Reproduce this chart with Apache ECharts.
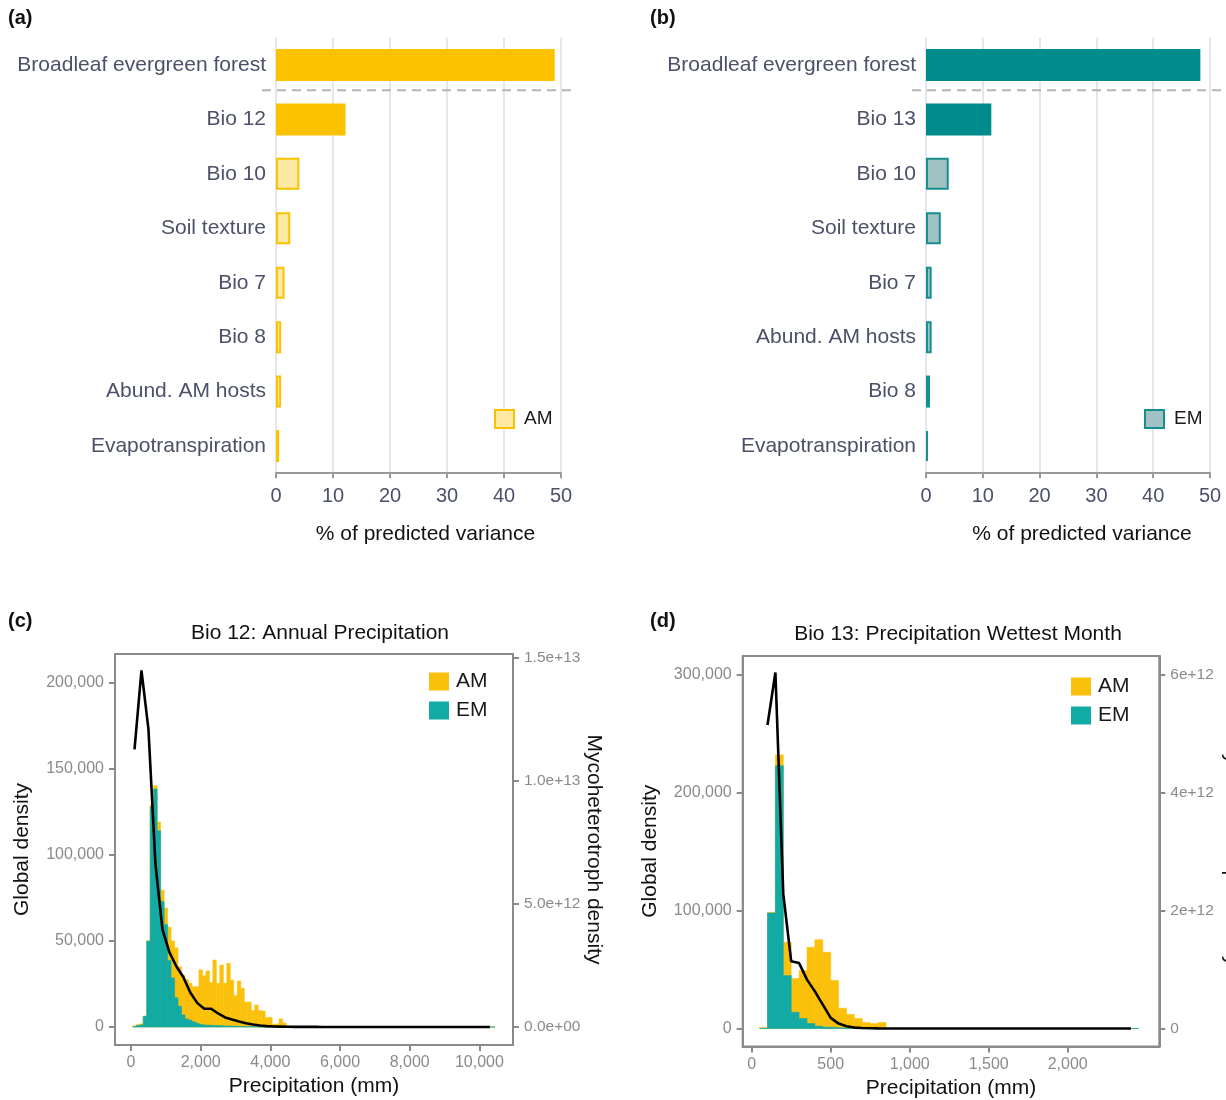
<!DOCTYPE html>
<html><head><meta charset="utf-8">
<script src="https://cdn.jsdelivr.net/npm/echarts@6/dist/echarts.min.js"></script>
<style>html,body{margin:0;padding:0;background:#fff}#chart{width:1226px;height:1100px}</style>
</head><body><div id="chart"></div>
<script>
// ---------------- DATA ----------------
const aCategories = ['Broadleaf evergreen forest','Bio 12','Bio 10','Soil texture','Bio 7','Bio 8','Abund. AM hosts','Evapotranspiration'];
const aValues = [48.9, 12.2, 4.1, 2.5, 1.5, 0.9, 0.9, 0.55];
const bCategories = ['Broadleaf evergreen forest','Bio 13','Bio 10','Soil texture','Bio 7','Abund. AM hosts','Bio 8','Evapotranspiration'];
const bValues = [48.3, 11.5, 4.0, 2.6, 1.0, 1.0, 0.7, 0.35];
const varianceTicks = [0, 10, 20, 30, 40, 50];

// Panel c: histogram bins (left edges, width 100 mm)
const cBinLeft = [50,150,250,350,450,550,650,750,850,950,1050,1150,1250,1350,1450,1550,1650,1750,1850,1950,
  2050,2150,2250,2350,2450,2550,2650,2750,2850,2950,3050,3150,3250,3350,3450,3550,3650,3750,3850,3950,
  4050,4150,4250,4350,4450,4550,4650,4750,4850,4950,5050,5150,5250,5350,5450,5550,5650,5750,5850,5950,
  6050,6150,6250,6350,6450,6550,6650,6750,6850,6950,7050,7150,7250,7350,7450,7550,7650,7750,7850,7950,
  8050,8150,8250,8350,8450,8550,8650,8750,8850,8950,9050,9150,9250,9350,9450,9550,9650,9750,9850,9950,
  10050,10150,10250,10350];
const cBinWidth = 100;
const cAM = [600,1400,1800,6300,50200,129000,140300,119200,79500,69200,
  58000,50000,46000,35000,30000,27500,25400,23400,23400,33200,
  29800,32600,25800,38900,25400,36000,25400,37000,27300,18200,
  26700,22500,14500,14500,9500,12800,9500,9300,5400,5600,
  1700,1700,4700,2300,600,300,200,150,200,100,
  120,100,250,80,90,70,80,60,70,200,
  60,50,60,50,40,200,40,50,30,40,
  30,180,30,150,20,30,20,20,20,20,
  15,15,10,10,10,10,10,10,8,8,
  8,6,6,6,5,5,5,4,4,4,
  3,3,3,3];
const cEM = [300,800,1200,6200,49800,128000,138400,114000,73000,59500,
  38600,28500,17000,12000,7000,4700,4000,3000,2200,1500,
  1200,1000,1000,800,800,700,600,600,500,500,
  300,300,200,200,150,150,100,100,100,80,
  60,50,40,30,20,10,10,10,10,10,
  5,5,5,5,5,5,5,5,5,5,
  5,5,5,5,5,5,5,5,5,5,
  5,5,5,5,5,5,5,5,5,5,
  5,5,5,5,5,5,5,5,5,5,
  5,5,5,5,5,5,5,5,5,5,
  2,2,2,2];
const cLineX = [100,300,500,700,900,1100,1300,1500,1700,1900,2100,2300,2500,2700,2900,3100,3300,3500,3700,3900,
  4100,4300,4500,4700,4900,5100,5300,5500,5700,5900,6100,6300,6500,6700,6900,7100,7300,7500,7700,7900,
  8100,8300,8500,8700,8900,9100,9300,9500,9700,9900,10100,10300];
const cLineY = [1.128e13,1.449e13,1.211e13,6.64e12,3.98e12,3.04e12,2.47e12,2.03e12,1.40e12,9.8e11,
  7.4e11,7.4e11,5.5e11,3.9e11,3.0e11,2.2e11,1.5e11,1.0e11,6e10,3.5e10,
  2e10,1.4e10,8e9,5e9,4e9,3e9,3e9,2e9,2e9,2e9,
  2e9,1.5e9,1.5e9,1.5e9,1e9,1e9,1e9,1e9,1e9,1e9,
  8e8,8e8,6e8,6e8,5e8,5e8,4e8,4e8,3e8,3e8,
  2e8,2e8];
const cXTicks = [0, 2000, 4000, 6000, 8000, 10000];
const cYTicks = [0, 50000, 100000, 150000, 200000];
const cY2Ticks = [0, 5e12, 1e13, 1.5e13];

// Panel d: histogram bins (left edges, width 50 mm)
const dBinLeft = [50,100,150,200,250,300,350,400,450,500,550,600,650,700,750,800,850,900,950,1000,
  1050,1100,1150,1200,1250,1300,1350,1400,1450,1500,1550,1600,1650,1700,1750,1800,1850,1900,1950,2000,
  2050,2100,2150,2200,2250,2300,2350,2400];
const dBinWidth = 50;
const dAM = [800,98600,232200,73200,42400,49200,68900,75400,64700,40700,
  17200,11900,8500,5100,4200,5100,400,300,250,200,
  180,160,140,120,110,100,90,80,70,60,
  50,50,40,40,30,30,30,20,20,20,
  20,15,15,15,10,10,10,10];
const dEM = [0,98000,222900,44900,13800,8500,4200,2000,1100,1000,
  500,300,200,100,100,50,30,20,20,20,
  10,10,10,10,10,10,10,10,10,10,
  10,10,10,10,10,10,10,10,10,10,
  5,5,5,5,5,5,5,5];
const dLineX = [100,150,200,250,300,350,400,450,500,550,600,650,700,750,800,850,900,950,1000,1050,
  1100,1150,1200,1250,1300,1350,1400,1450,1500,1550,1600,1650,1700,1750,1800,1850,1900,1950,2000,2050,
  2100,2150,2200,2250,2300,2350,2400];
const dLineY = [5.15e12,6.04e12,2.28e12,1.14e12,1.11e12,8.3e11,6.3e11,4.06e11,1.8e11,8.4e10,
  4.0e10,1.6e10,8e9,4e9,2e9,1.5e9,1.2e9,1e9,9e8,8e8,
  7e8,6e8,5e8,5e8,4e8,4e8,3e8,3e8,3e8,2e8,
  2e8,2e8,2e8,1e8,1e8,1e8,1e8,1e8,1e8,1e8,
  5e7,5e7,5e7,5e7,5e7,5e7,5e7];
const dXTicks = [0, 500, 1000, 1500, 2000];
const dYTicks = [0, 100000, 200000, 300000];
const dY2Ticks = [0, 2e12, 4e12, 6e12];

// ---------------- STYLE ----------------
const FONT = '"Liberation Sans", Arial, sans-serif';
const SLATE = '#4a5168';
const GRAYTXT = '#8a8a8a';
const FRAME = '#8a8a8a';
const AM_SOLID = '#FCC200', AM_LIGHT = '#FEE9A3', AM_BORDER = '#FCC200';
const EM_SOLID = '#008C8C', EM_LIGHT = '#A2C1C2', EM_BORDER = '#178E8F';
const HIST_AM = '#FBC10A', HIST_EM = '#12AAA5';

const fmtComma = v => v.toLocaleString('en-US');
const fmtExp1 = v => { const s = v.toExponential(1).split('e'); const e = s[1]; return s[0] + 'e' + e[0] + e.slice(1).padStart(2, '0'); };
const fmtExp0 = v => v === 0 ? '0' : v.toExponential(0);

function barY(gi, cats) {
  return { type: 'category', gridIndex: gi, data: cats, inverse: true,
    axisLine: { show: false }, axisTick: { show: false }, splitLine: { show: false },
    axisLabel: { color: SLATE, fontSize: 21, fontFamily: FONT, margin: 10 } };
}
function barX(gi, nameShift) {
  return { type: 'value', gridIndex: gi, min: varianceTicks[0], max: varianceTicks[varianceTicks.length - 1], interval: 10,
    name: '% of predicted variance', nameLocation: 'middle', nameGap: 51, nameMoveOverlap: false,
    nameTextStyle: { color: '#111', fontSize: 21, fontFamily: FONT, padding: [0, 0, 0, nameShift] },
    axisLine: { show: true, onZero: false, lineStyle: { color: '#9a9a9a', width: 2 } },
    axisTick: { show: true, length: 5, lineStyle: { color: '#9a9a9a', width: 2 } },
    axisLabel: { color: SLATE, fontSize: 20, fontFamily: FONT, margin: 13 },
    splitLine: { show: true, lineStyle: { color: '#e3e6ee', width: 2 } } };
}
function barSeries(name, xi, yi, vals, solid, light, border) {
  return { type: 'bar', name, xAxisIndex: xi, yAxisIndex: yi, barWidth: 32, z: 3,
    itemStyle: { color: light, borderColor: border, borderWidth: 2 },
    data: vals.map((v, i) => i < 2 ? { value: v, itemStyle: { color: solid, borderColor: solid, borderWidth: 0 } } : v) };
}
function histX(gi, min, max, ticks) {
  return { type: 'value', gridIndex: gi, min, max,
    name: 'Precipitation (mm)', nameLocation: 'middle', nameGap: 31, nameMoveOverlap: false,
    nameTextStyle: { color: '#111', fontSize: 21, fontFamily: FONT },
    axisLine: { show: true, onZero: false, lineStyle: { color: FRAME, width: 2 } },
    axisTick: { show: true, length: 6, customValues: ticks, lineStyle: { color: FRAME, width: 2 } },
    axisLabel: { color: GRAYTXT, fontSize: 16, fontFamily: FONT, margin: 10, customValues: ticks, formatter: fmtComma },
    splitLine: { show: false } };
}
function histY(gi, min, max, ticks, pos, name, gap, rot, fmt, lblSize) {
  return { type: 'value', gridIndex: gi, min, max, position: pos,
    name, nameLocation: 'middle', nameGap: gap, nameRotate: rot, nameMoveOverlap: false,
    nameTextStyle: { color: '#111', fontSize: 21, fontFamily: FONT },
    axisLine: { show: true, onZero: false, lineStyle: { color: FRAME, width: 2 } },
    axisTick: { show: true, length: 6, customValues: ticks, lineStyle: { color: FRAME, width: 2 } },
    axisLabel: { color: GRAYTXT, fontSize: lblSize, fontFamily: FONT, margin: 11, customValues: ticks, formatter: fmt },
    splitLine: { show: false } };
}
function histSeries(name, xi, yi, lefts, width, vals, color, z) {
  return { type: 'custom', name, xAxisIndex: xi, yAxisIndex: yi, z,
    itemStyle: { color }, encode: { x: [0, 1], y: 2 },
    data: vals.map((v, i) => [lefts[i], lefts[i] + width, v]),
    renderItem: (params, api) => {
      const p0 = api.coord([api.value(0), api.value(2)]);
      const p1 = api.coord([api.value(1), 0]);
      return { type: 'rect', shape: { x: p0[0], y: p0[1], width: p1[0] - p0[0], height: p1[1] - p0[1] },
        style: { fill: color, stroke: color, lineWidth: 0.6 } };
    } };
}
function lineSeries(xi, yi, xs, ys) {
  return { type: 'line', xAxisIndex: xi, yAxisIndex: yi, z: 10, showSymbol: false, silent: true,
    lineStyle: { color: '#000', width: 2.6 }, data: xs.map((x, i) => [x, ys[i]]) };
}
const txt = (id, text, x, y, size, bold, align) => ({ type: 'text', id, x, y,
  style: { text, fontSize: size, fontWeight: bold ? 'bold' : 'normal', fontFamily: FONT, fill: '#111',
    align: align || 'left', verticalAlign: 'middle' } });

const legendTextAB = { fontSize: 19, color: '#1a1a1a', fontFamily: FONT, padding: [0, 0, 0, 5] };
const legendTextCD = { fontSize: 21, color: '#1a1a1a', fontFamily: FONT, padding: [0, 0, 0, 2] };

const option = {
  animation: false,
  backgroundColor: '#fff',
  grid: [
    { left: 276, top: 37.8, width: 285, height: 435.4, outerBoundsMode: 'none' },
    { left: 926, top: 37.8, width: 284, height: 435.4, outerBoundsMode: 'none' },
    { left: 115, top: 654, width: 398, height: 391, show: true, borderColor: FRAME, borderWidth: 2, backgroundColor: '#fff', outerBoundsMode: 'none' },
    { left: 742.7, top: 656, width: 416.6, height: 390.5, show: true, borderColor: FRAME, borderWidth: 2, backgroundColor: '#fff', outerBoundsMode: 'none' }
  ],
  xAxis: [ barX(0, 14), barX(1, 28), histX(2, -460, 10965, cXTicks), histX(3, -57, 2580, dXTicks) ],
  yAxis: [
    barY(0, aCategories), barY(1, bCategories),
    histY(2, -10470, 216860, cYTicks, 'left', 'Global density', 82, 90, fmtComma, 16),
    histY(2, -7.32e11, 1.516e13, cY2Ticks, 'right', 'Mycoheterotroph density', 70, -90, fmtExp1, 15.5),
    histY(3, -15250, 316100, dYTicks, 'left', 'Global density', 82, 90, fmtComma, 16),
    histY(3, -3.05e11, 6.32e12, dY2Ticks, 'right', 'Mycoheterotroph density', 62, -90, fmtExp0, 15.5)
  ],
  legend: [
    { data: [{ name: 'AM', icon: 'rect', itemStyle: { color: AM_LIGHT, borderColor: AM_BORDER, borderWidth: 2 } }],
      left: 494, top: 409, padding: 0, itemWidth: 19, itemHeight: 18, itemGap: 8, textStyle: legendTextAB, selectedMode: false },
    { data: [{ name: 'EM', icon: 'rect', itemStyle: { color: EM_LIGHT, borderColor: EM_BORDER, borderWidth: 2 } }],
      left: 1144, top: 409, padding: 0, itemWidth: 19, itemHeight: 18, itemGap: 8, textStyle: legendTextAB, selectedMode: false },
    { data: [{ name: 'AM ', icon: 'rect', itemStyle: { color: HIST_AM } }, { name: 'EM ', icon: 'rect', itemStyle: { color: HIST_EM } }],
      orient: 'vertical', left: 429, top: 671, padding: 0, itemWidth: 20, itemHeight: 18, itemGap: 8,
      formatter: n => n.trim(), textStyle: legendTextCD, selectedMode: false },
    { data: [{ name: 'AM  ', icon: 'rect', itemStyle: { color: HIST_AM } }, { name: 'EM  ', icon: 'rect', itemStyle: { color: HIST_EM } }],
      orient: 'vertical', left: 1071, top: 676, padding: 0, itemWidth: 20, itemHeight: 18, itemGap: 8,
      formatter: n => n.trim(), textStyle: legendTextCD, selectedMode: false }
  ],
  series: [
    barSeries('AM', 0, 0, aValues, AM_SOLID, AM_LIGHT, AM_BORDER),
    barSeries('EM', 1, 1, bValues, EM_SOLID, EM_LIGHT, EM_BORDER),
    histSeries('AM ', 2, 2, cBinLeft, cBinWidth, cAM, HIST_AM, 2),
    histSeries('EM ', 2, 2, cBinLeft, cBinWidth, cEM, HIST_EM, 3),
    lineSeries(2, 3, cLineX, cLineY),
    histSeries('AM  ', 3, 4, dBinLeft, dBinWidth, dAM, HIST_AM, 2),
    histSeries('EM  ', 3, 4, dBinLeft, dBinWidth, dEM, HIST_EM, 3),
    lineSeries(3, 5, dLineX, dLineY)
  ],
  graphic: [
    txt('ta', '(a)', 8, 18, 20, true),
    txt('tb', '(b)', 650, 18, 20, true),
    txt('tc', '(c)', 8, 621, 20, true),
    txt('td', '(d)', 650, 621, 20, true),
    txt('hc', 'Bio 12: Annual Precipitation', 320, 633, 21, false, 'center'),
    txt('hd', 'Bio 13: Precipitation Wettest Month', 958, 634, 21, false, 'center')
  ]
};

const chart = echarts.init(document.getElementById('chart'), null, { renderer: 'canvas' });
chart.setOption(option);

// dashed separator between the first and second category of panels a and b
function sepLine(id, yAxisIndex, xAxisIndex, cats) {
  const y0 = chart.convertToPixel({ yAxisIndex }, cats[0]);
  const y1 = chart.convertToPixel({ yAxisIndex }, cats[1]);
  const xL = chart.convertToPixel({ xAxisIndex }, varianceTicks[0]);
  const xR = chart.convertToPixel({ xAxisIndex }, varianceTicks[varianceTicks.length - 1]);
  const y = (y0 + y1) / 2 - 2;
  return { type: 'line', id, z: 20, shape: { x1: xL - 14, y1: y, x2: xR + 16, y2: y },
    style: { stroke: '#b4b4b4', lineWidth: 2, lineDash: [9, 6] } };
}
chart.setOption({ graphic: [ sepLine('sepA', 0, 0, aCategories), sepLine('sepB', 1, 1, bCategories) ] });
</script>
</body></html>
